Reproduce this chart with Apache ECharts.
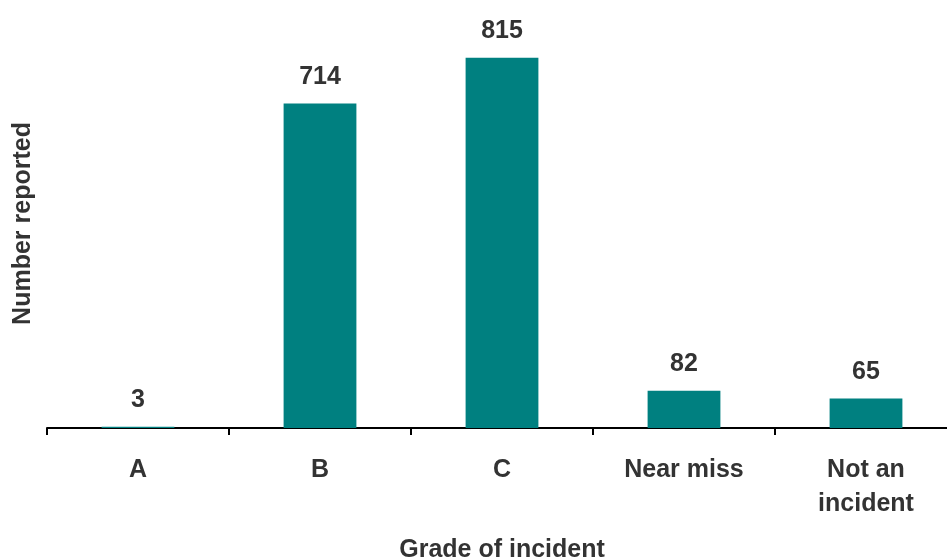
<!DOCTYPE html>
<html><head><meta charset="utf-8">
<script src="https://cdn.jsdelivr.net/npm/echarts@6/dist/echarts.min.js"></script>
<style>html,body{margin:0;padding:0;background:#fff}#c{width:947px;height:557px}</style>
</head><body><div id="c"></div>
<script>
const categories = ['A', 'B', 'C', 'Near miss', 'Not an\nincident'];
const values = [3, 714, 815, 82, 65];
const xTitle = 'Grade of incident';
const yTitle = 'Number reported';

const font = '"Liberation Sans", Arial, sans-serif';
const chart = echarts.init(document.getElementById('c'), null, {renderer: 'canvas'});
chart.setOption({
  animation: false,
  grid: {left: 47, top: 19, width: 910, height: 409, containLabel: false, outerBoundsMode: 'none'},
  xAxis: {
    type: 'category', data: categories,
    name: xTitle, nameLocation: 'middle', nameGap: 110,
    nameTextStyle: {fontFamily: font, fontWeight: 'bold', fontSize: 25, color: '#333'},
    axisLine: {lineStyle: {color: '#000', width: 2}},
    axisTick: {show: true, length: 7, lineStyle: {color: '#000', width: 2}},
    axisLabel: {fontFamily: font, fontWeight: 'bold', fontSize: 25, color: '#333', margin: 25, lineHeight: 34, interval: 0}
  },
  yAxis: {
    type: 'value', min: 0, max: 900,
    name: yTitle, nameLocation: 'middle', nameGap: 11, nameRotate: 90,
    nameTextStyle: {fontFamily: font, fontWeight: 'bold', fontSize: 25, color: '#333'},
    axisLine: {show: false}, axisTick: {show: false}, axisLabel: {show: false}, splitLine: {show: false}
  },
  series: [{
    type: 'bar', data: values, barWidth: '40%',
    itemStyle: {color: '#008080'},
    label: {show: true, position: 'top', distance: 14, fontFamily: font, fontWeight: 'bold', fontSize: 25, color: '#333'}
  }]
});
</script></body></html>
